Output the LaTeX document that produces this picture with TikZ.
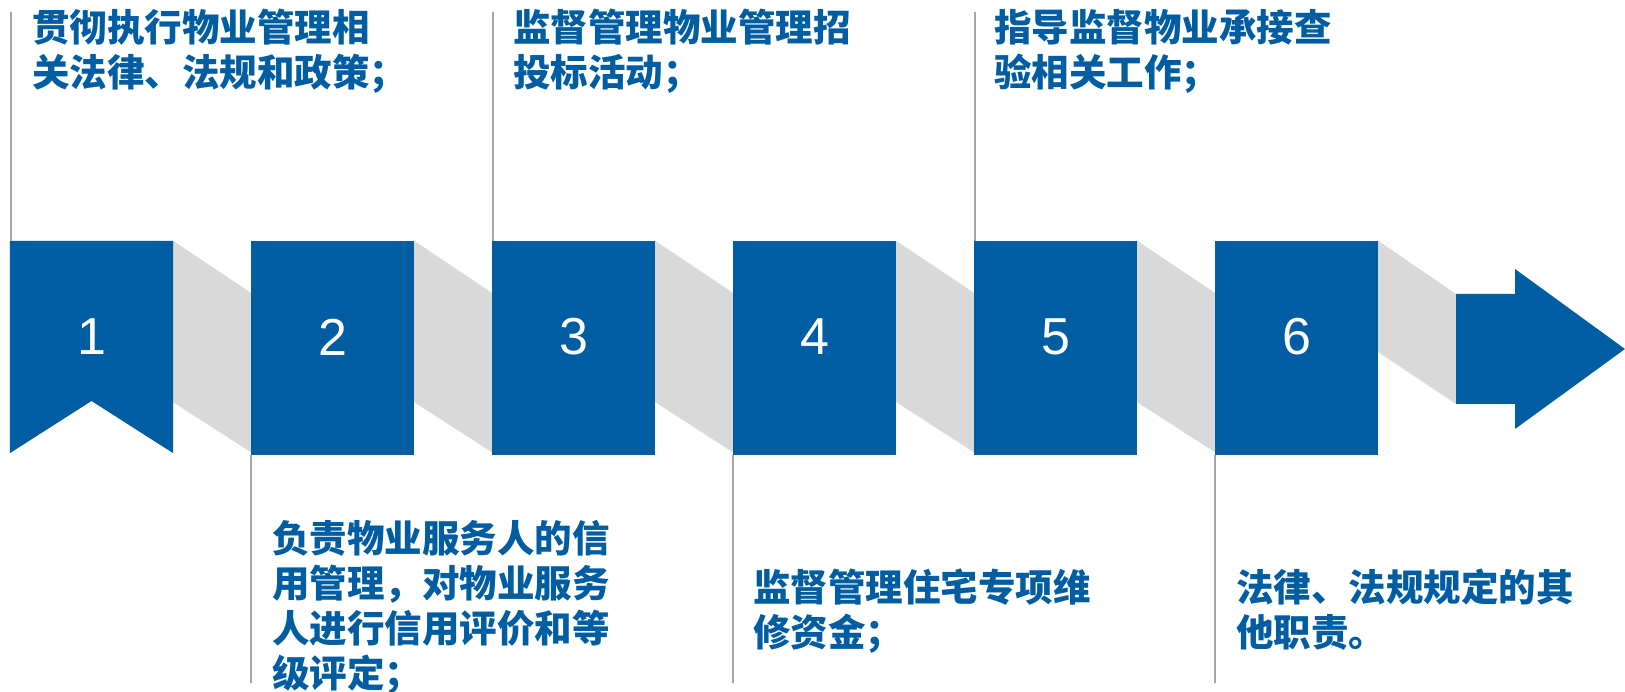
\documentclass[tikz,border=0pt]{standalone}
\usepackage{fontspec}
\newfontfamily\cjk{Noto Sans CJK SC}
\newfontfamily\numfont{Liberation Sans}
\definecolor{mainblue}{RGB}{0,93,161}
\definecolor{bandgray}{RGB}{217,217,217}
\definecolor{linegray}{RGB}{166,166,166}
\tikzset{
  box/.style={fill=mainblue, draw=none, minimum width=163pt, minimum height=214pt, inner sep=0pt},
  num/.style={text=white, font=\numfont\fontsize{52}{52}\selectfont, inner sep=0pt},
  band/.style={fill=bandgray, draw=none},
  vline/.style={draw=linegray, line width=2pt},
  desc/.style={text=mainblue, font=\cjk\bfseries\fontsize{37.5}{45}\selectfont, align=left, inner sep=0pt, anchor=base west}
}
\begin{document}
\begin{tikzpicture}[x=1pt,y=-1pt]
\useasboundingbox (0,0) rectangle (1625,692);
% boxes (positions)
\node[box, fill=none] (b1) at (91.5,348) {};
\node[box] (b2) at (332.5,348) {};
\node[box] (b3) at (573.5,348) {};
\node[box] (b4) at (814.5,348) {};
\node[box] (b5) at (1055.5,348) {};
\node[box] (b6) at (1296.5,348) {};
\coordinate (ar) at (1456,349);
% grey bands
\foreach \i/\j in {1/2,2/3,3/4,4/5,5/6}{
  \fill[band] (b\i.north east) -- ([yshift=-52pt]b\j.north west) -- ([yshift=3pt]b\j.south west) -- ([yshift=53pt]b\i.south east) -- cycle;
}
\fill[band] (b6.north east) -- ([yshift=55pt]ar) -- ([yshift=-55pt]ar) -- ([yshift=103pt]b6.south east) -- cycle;
% redraw boxes on top
\foreach \k in {2,...,6}{ \fill[mainblue] (b\k.north west) rectangle (b\k.south east); }
\fill[mainblue] (b1.north west) -- (b1.north east) -- ([yshift=2pt]b1.south east) -- ([yshift=-53pt]b1.center) -- ([yshift=2pt]b1.south west) -- cycle;
% arrow
\fill[mainblue] ([yshift=55pt]ar) -- ([xshift=59pt,yshift=55pt]ar) -- ([xshift=59pt,yshift=80pt]ar) -- ([xshift=169pt]ar) -- ([xshift=59pt,yshift=-80pt]ar) -- ([xshift=59pt,yshift=-55pt]ar) -- ([yshift=-55pt]ar) -- cycle;
% numbers
\foreach \k in {1,...,6}{ \node[num] (n\k) at ([yshift=11pt]b\k.center) {\k}; }
% leader lines
\coordinate (t1) at (11,12);
\coordinate (t3) at (493,12);
\coordinate (t5) at (975,12);
\coordinate (u2) at (251,683);
\coordinate (u4) at (733,683);
\coordinate (u6) at (1215,683);
\draw[vline] (t1) -- (t1 |- b1.north);
\draw[vline] (t3) -- (t3 |- b3.north);
\draw[vline] (t5) -- (t5 |- b5.north);
\draw[vline] (u2) -- (u2 |- b2.south);
\draw[vline] (u4) -- (u4 |- b4.south);
\draw[vline] (u6) -- (u6 |- b6.south);
% texts (anchored at the baseline of their last line)
\node[desc] (d1) at (32,87) {贯彻执行物业管理相\\关法律、法规和政策；};
\node[desc] (d3) at (513,87) {监督管理物业管理招\\投标活动；};
\node[desc] (d5) at (994,87) {指导监督物业承接查\\验相关工作；};
\node[desc] (d2) at (272,687) {负责物业服务人的信\\用管理，对物业服务\\人进行信用评价和等\\级评定；};
\node[desc] (d4) at (753,646) {监督管理住宅专项维\\修资金；};
\node[desc] (d6) at (1236,646) {法律、法规规定的其\\他职责。};
\end{tikzpicture}
\end{document}
